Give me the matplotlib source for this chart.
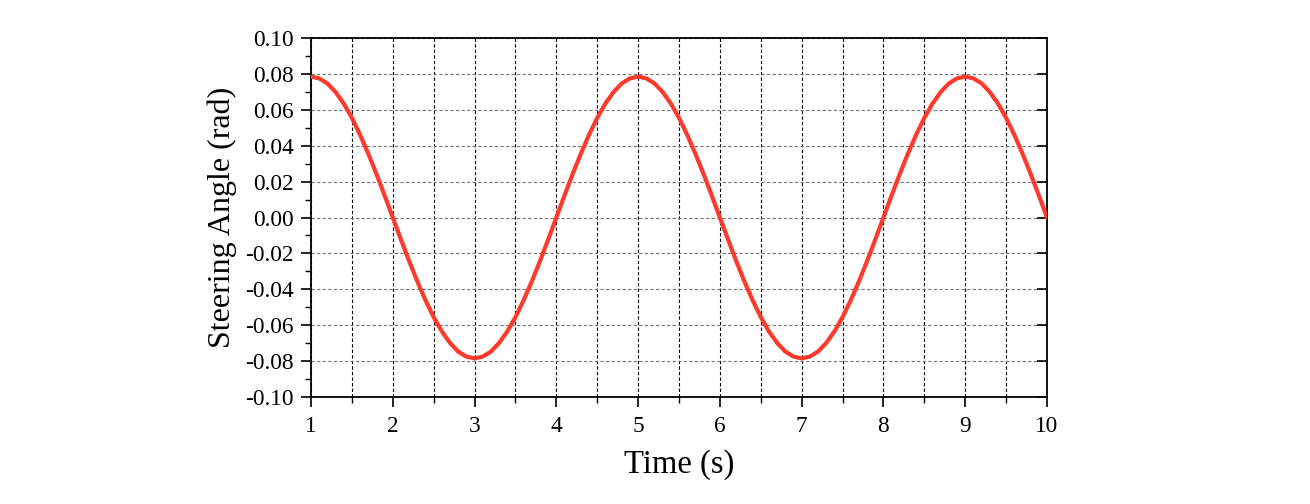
import matplotlib
matplotlib.use("Agg")
import matplotlib.pyplot as plt
from matplotlib.ticker import MultipleLocator
from matplotlib.lines import TICKLEFT

time_s = [1.0 + 0.1 * i for i in range(91)]
# steering angle (rad), every 0.1 s
steering = [
    0.0785, 0.0775, 0.0747, 0.0699, 0.0635, 0.0555, 0.0461, 0.0356, 0.0243, 0.0123,
    0.0, -0.0123, -0.0243, -0.0356, -0.0461, -0.0555, -0.0635, -0.0699, -0.0747, -0.0775,
    -0.0785, -0.0775, -0.0747, -0.0699, -0.0635, -0.0555, -0.0461, -0.0356, -0.0243, -0.0123,
    0.0, 0.0123, 0.0243, 0.0356, 0.0461, 0.0555, 0.0635, 0.0699, 0.0747, 0.0775,
    0.0785, 0.0775, 0.0747, 0.0699, 0.0635, 0.0555, 0.0461, 0.0356, 0.0243, 0.0123,
    0.0, -0.0123, -0.0243, -0.0356, -0.0461, -0.0555, -0.0635, -0.0699, -0.0747, -0.0775,
    -0.0785, -0.0775, -0.0747, -0.0699, -0.0635, -0.0555, -0.0461, -0.0356, -0.0243, -0.0123,
    0.0, 0.0123, 0.0243, 0.0356, 0.0461, 0.0555, 0.0635, 0.0699, 0.0747, 0.0775,
    0.0785, 0.0775, 0.0747, 0.0699, 0.0635, 0.0555, 0.0461, 0.0356, 0.0243, 0.0123,
    0.0,
]
x_ticks = [1, 2, 3, 4, 5, 6, 7, 8, 9, 10]
y_ticks = [-0.10, -0.08, -0.06, -0.04, -0.02, 0.00, 0.02, 0.04, 0.06, 0.08, 0.10]

plt.rcParams['font.family'] = ['Liberation Serif', 'DejaVu Serif']

W, H = 1310, 504
fig = plt.figure(figsize=(W / 100, H / 100), dpi=100)
ax = fig.add_axes([311 / W, 1 - 397 / H, (1047 - 311) / W, (397 - 38) / H])

ax.plot(time_s, steering, color='#ff3a2c', lw=3.0, solid_capstyle='round',
        solid_joinstyle='round', zorder=3)

ax.set_xlim(1, 10)
ax.set_ylim(-0.10, 0.10)
ax.set_xticks(x_ticks)
ax.set_yticks(y_ticks)
ax.set_yticklabels([f"{v:.2f}" for v in y_ticks])
ax.xaxis.set_minor_locator(MultipleLocator(0.5))
ax.yaxis.set_minor_locator(MultipleLocator(0.01))

ax.tick_params(axis='both', which='major', direction='out', length=7.5, width=1.2,
               labelsize=16.8)
ax.tick_params(axis='x', which='major', pad=6)
ax.tick_params(axis='y', which='major', pad=5)
ax.tick_params(axis='both', which='minor', direction='out', length=4.5, width=1.0)
ax.tick_params(axis='y', which='both', right=True, labelright=False)
# right-side ticks point inward
for t in ax.yaxis.get_major_ticks():
    t.tick2line.set_marker(TICKLEFT)
    t.tick2line.set_markersize(7.5)
for t in ax.yaxis.get_minor_ticks():
    t.tick2line.set_visible(False)

ax.grid(True, axis='x', which='both', color='black', linestyle=(0, (3, 2)), lw=0.8, zorder=1)
ax.grid(True, axis='y', which='major', color='#777777', linestyle=(0, (3, 2)), lw=0.8, zorder=1)

for s in ax.spines.values():
    s.set_linewidth(1.3)

ax.set_xlabel('Time (s)', fontsize=23.5, labelpad=9)
ax.set_ylabel('Steering Angle (rad)', fontsize=23, labelpad=6)

fig.savefig('out.png', dpi=100)
